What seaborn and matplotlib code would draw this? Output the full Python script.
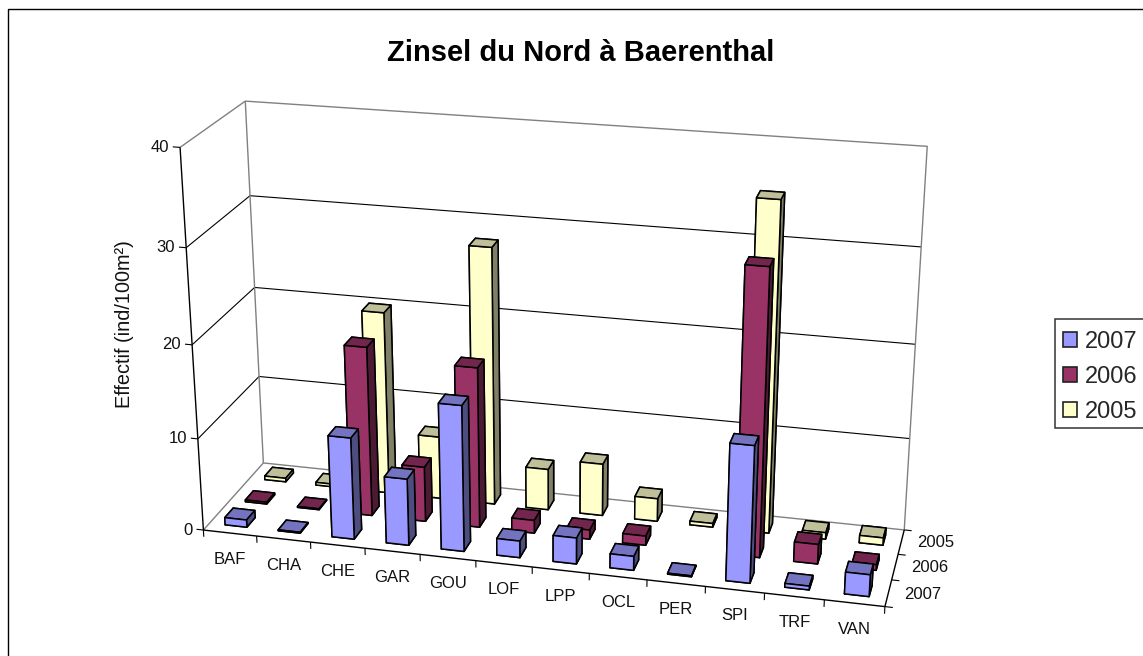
import numpy as np
import matplotlib
matplotlib.use("Agg")
import matplotlib.pyplot as plt
from matplotlib.patches import Patch, Rectangle
from mpl_toolkits.mplot3d import proj3d
import seaborn as sns

categories = ["BAF", "CHA", "CHE", "GAR", "GOU", "LOF", "LPP", "OCL", "PER", "SPI", "TRF", "VAN"]
years = ["2007", "2006", "2005"]
values_2007 = [0.8, 0.1, 11, 7.2, 15.6, 1.8, 2.8, 1.5, 0.1, 14.4, 0.4, 2.3]
values_2006 = [0.2, 0.1, 18.4, 6, 17.3, 1.4, 1, 1, 0, 30.2, 2.1, 0.6]
values_2005 = [0.4, 0.3, 20, 6.9, 27.9, 4.5, 5.7, 2.5, 0.4, 35, 0.7, 0.8]
z_ticks = [0, 10, 20, 30, 40]

sns.set_theme(style="white")
plt.rcParams["font.family"] = ["Liberation Sans", "DejaVu Sans"]
palette = sns.color_palette(["#9999FF", "#993366", "#FFFFCC"])

W, H = 1143, 656
fig = plt.figure(figsize=(W / 100, H / 100), dpi=100, facecolor="white")
# 3d axes are forced square, so make it bigger than the figure
ax = fig.add_axes([0, (H - W) / 2 / H, 1, W / H], projection="3d", computed_zorder=False)
ax.set_axis_off()
ax.apply_aspect()

# camera taken from the corners of the chart box: (x, y, z) -> (px, py)
nx, ny, nz = len(categories), len(years), z_ticks[-1]
world = np.array([
    [0, 0, 0], [nx, 0, 0], [nx, ny, 0], [0, ny, 0],
    [0, ny, 40], [nx, ny, 40], [0, 0, 40],
    [0, ny, 30], [0, ny, 20], [0, 0, 30], [nx, ny, 30], [nx, ny, 10],
], dtype=float)
pixels = np.array([
    [203.3, 530.7], [885, 606], [904, 530.7], [263.3, 462.3],
    [245, 100.7], [927.3, 146], [180.3, 147.7],
    [250, 196.7], [255, 287], [186, 247.3], [921, 247.3], [910, 438.3],
])
target = ax.transData.inverted().transform(np.c_[pixels[:, 0], H - pixels[:, 1]])
rows = []
for (X, Y, Z), (u, v) in zip(world, target):
    rows.append([X, Y, Z, 1, 0, 0, 0, 0, -u * X, -u * Y, -u * Z, -u])
    rows.append([0, 0, 0, 0, X, Y, Z, 1, -v * X, -v * Y, -v * Z, -v])
P = np.linalg.svd(np.array(rows))[2][-1].reshape(3, 4)
P = P / (P[2] @ [nx / 2, ny / 2, nz / 2, 1])
M = np.vstack([P[0], P[1], [0, 0, 0, -1], P[2]])
ax.get_proj = lambda: M

wall_grey = "#808080"


def line(xs, ys, zs, color="black", lw=0.8, z=1):
    ax.plot(xs, ys, zs, color=color, lw=lw, zorder=z, solid_capstyle="butt")


def label(x, y, z, s, dx, dy, ha):
    u, v, _ = proj3d.proj_transform(x, y, z, M)
    ax.annotate(s, (u, v), xytext=(dx, dy), textcoords="offset pixels", ha=ha, va="center",
                fontsize=12, color="#111111", annotation_clip=False)


# walls and gridlines
for t in z_ticks[1:-1]:
    line([0, 0, nx], [0, ny, ny], [t, t, t])
line([0, 0, nx, nx], [0, ny, ny, ny], [nz, nz, nz, 0], wall_grey, 1.0)
line([0, 0, nx], [0, ny, ny], [0, 0, 0], wall_grey, 1.0)
line([0, 0], [ny, ny], [0, nz], wall_grey, 1.0)

# axes and ticks
line([0, 0], [0, 0], [0, nz], lw=1.0)
line([0, nx], [0, 0], [0, 0], lw=1.0)
line([nx, nx], [0, ny], [0, 0], lw=1.0)
for t in z_ticks:
    line([-0.13, 0], [0, 0], [t, t])
    label(0, 0, t, str(t), -11, 0, "right")
for i in range(nx + 1):
    line([i, i], [0, 0], [0, -0.75])
for j in range(ny + 1):
    line([nx, nx + 0.13], [j, j], [0, 0])
for i, name in enumerate(categories):
    label(i + 0.5, 0, 0, name, 0, -26, "center")
for j, year in enumerate(years):
    label(nx, j + 0.5, 0, year, 16, -1, "left")

# bars, back row first
series = [values_2007, values_2006, values_2005]
bar_w = 0.41
for j in reversed(range(ny)):
    base = np.array(palette[j])
    top = tuple(base * 0.75)
    front = tuple(base)
    side = tuple(base * 0.5)
    for i, v in enumerate(series[j]):
        if v == 0:
            continue
        ax.bar3d(i + 0.295, j + 0.295, 0, bar_w, bar_w, v,
                 color=[top, top, front, front, side, side],
                 edgecolor="black", linewidth=1.1, shade=False,
                 zorder=10 + (ny - j) * 100 + i)

fig.add_artist(Rectangle((7.5 / W, -0.1), 1.2, 1.1 - 9.5 / H, transform=fig.transFigure,
                         fill=False, edgecolor="black", lw=1.0))
fig.text(581 / W, 1 - 53 / H, "Zinsel du Nord à Baerenthal", ha="center", va="center",
         fontsize=21, fontweight="bold", color="black")
fig.text(124 / W, 1 - 324 / H, "Effectif (ind/100m²)", rotation=90, ha="center", va="center",
         fontsize=14.3, color="#111111")

# legend box runs off the right side
fig.add_artist(Rectangle((1054.7 / W, 1 - 427.7 / H), 0.2, 108.7 / H, transform=fig.transFigure,
                         facecolor="white", edgecolor="#333333", lw=1.1))
handles = [Patch(facecolor=c, edgecolor="#222222", lw=1.2) for c in palette]
fig.legend(handles, years, loc="upper left", bbox_to_anchor=(1054.7 / W, 1 - 323 / H),
           borderaxespad=0, fontsize=17, frameon=False,
           borderpad=0.35, handlelength=0.6, handleheight=0.6, handletextpad=0.33,
           labelspacing=0.55)

plt.savefig("out.png", dpi=100)
